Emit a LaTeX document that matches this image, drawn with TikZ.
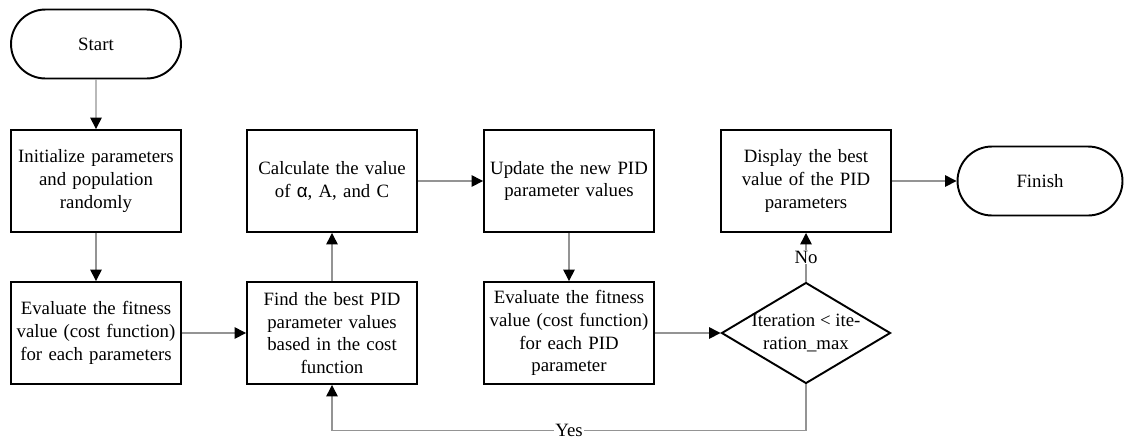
\documentclass[tikz,border=0pt]{standalone}
\usepackage{fontspec}
\setmainfont{Liberation Serif}
\newfontfamily\greekfont{Liberation Sans}
\usetikzlibrary{arrows.meta,shapes.geometric,shapes.misc}
\tikzset{
  procbox/.style={draw=black, line width=1.1pt, rectangle, minimum width=3.4cm, minimum height=2.04cm, align=center, text width=3.3cm, inner sep=0pt, font=\fontsize{10.7}{13}\selectfont},
  terminal/.style={draw=black, line width=1.1pt, rounded rectangle, minimum width=3.4cm, minimum height=1.38cm, inner sep=0pt, font=\fontsize{10.7}{13}\selectfont},
  decision/.style={draw=black, line width=1.1pt, diamond, minimum width=3.38cm, minimum height=2.02cm, inner sep=0pt},
  conn/.style={draw=black!42, line width=0.8pt, -{Triangle[length=6.5pt,width=6.5pt,color=black]}},
  lbl/.style={fill=white, inner sep=0.5pt, font=\fontsize{10.7}{13}\selectfont},
}
\begin{document}
\begin{tikzpicture}[x=0.02cm, y=-0.02cm]
\useasboundingbox (0,0) rectangle (1125,441);
\node[terminal] (start) at (96,44) {Start};
\node[procbox] (b1) at (96,181) {Initialize parameters\\and population\\randomly};
\node[procbox] (b2) at (96,333) {Evaluate the fitness\\value (cost function)\\for each parameters};
\node[procbox] (b3) at (332,333) {Find the best PID\\parameter values\\based in the cost\\function};
\node[procbox] (b4) at (332,181) {Calculate the value\\of {\greekfont α}, A, and C};
\node[procbox] (b5) at (569,181) {Update the new PID\\parameter values};
\node[procbox] (b6) at (569,333) {Evaluate the fitness\\value (cost function)\\for each PID\\parameter};
\node[decision, label={[align=center, font=\fontsize{10.7}{13}\selectfont]center:Iteration < ite-\\ration\_max}] (d) at (806,333) {};
\node[procbox] (b7) at (806,181) {Display the best\\value of the PID\\parameters};
\node[terminal, minimum width=3.3cm] (fin) at (1040,181) {Finish};

\draw[conn] (start) -- (b1);
\draw[conn] (b1) -- (b2);
\draw[conn] (b2) -- (b3);
\draw[conn] (b3) -- (b4);
\draw[conn] (b4) -- (b5);
\draw[conn] (b5) -- (b6);
\draw[conn] (b6) -- (d);
\draw[conn] (d) -- node[lbl, pos=0.5] {No} (b7);
\draw[conn] (b7) -- (fin);
\draw[conn] (d.south) -- ++(0,46) -| node[lbl, pos=0.25] {Yes} (b3.south);
\end{tikzpicture}
\end{document}
